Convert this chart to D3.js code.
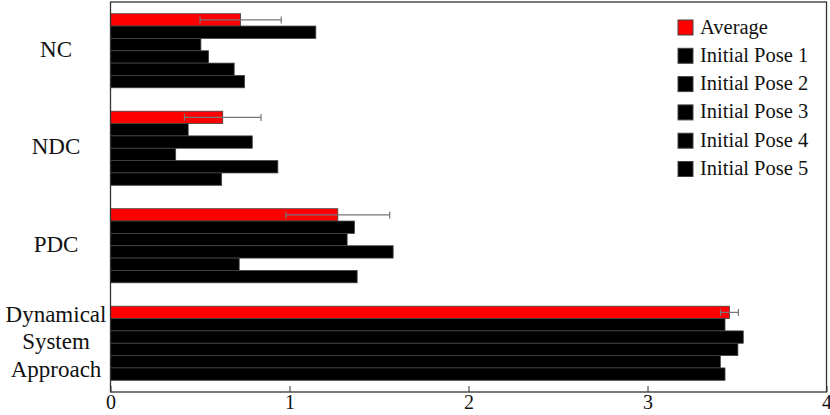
<!DOCTYPE html>
<html lang="en">
<head>
<meta charset="utf-8">
<style>
body { margin: 0; background: #fff; }
svg text { font-family: "Liberation Serif", "DejaVu Serif", serif; fill: #111; }
</style>
<title>Approach comparison</title>
<script src="https://cdn.jsdelivr.net/npm/d3@7"></script>
</head>
<body>
<div id="chart"></div>
<script>

// categories (top to bottom) and their label lines
var categories = ["NC", "NDC", "PDC", "DSA"];
var categoryLines = [["NC"], ["NDC"], ["PDC"], ["Dynamical", "System", "Approach"]];
var seriesNames = ["Average", "Initial Pose 1", "Initial Pose 2", "Initial Pose 3", "Initial Pose 4", "Initial Pose 5"];

var average = [0.727, 0.627, 1.270, 3.458];
var averageErr = [0.227, 0.214, 0.290, 0.050];
var pose1 = [1.147, 0.434, 1.363, 3.433];
var pose2 = [0.505, 0.792, 1.322, 3.535];
var pose3 = [0.548, 0.364, 1.579, 3.505];
var pose4 = [0.691, 0.935, 0.719, 3.407];
var pose5 = [0.749, 0.621, 1.378, 3.433];
var xTicks = [0, 1, 2, 3, 4];

var seriesValues = [average, pose1, pose2, pose3, pose4, pose5];
var seriesColors = ["#ff0000", "#000", "#000", "#000", "#000", "#000"];

var width = 830, height = 415;
var plotLeft = 110.5, plotRight = 826.5, plotTop = 2, plotBottom = 392;
var serif = "'Liberation Serif', 'DejaVu Serif', serif";

var svg = d3.select("#chart").append("svg")
	.attr("width", width)
	.attr("height", height);

var x = d3.scaleLinear().domain([0, 4]).range([plotLeft, plotRight]);
var y = d3.scaleBand().domain(categories).range([plotTop, plotBottom])
	.paddingInner(0.24).paddingOuter(0.12);
var ySub = d3.scaleBand().domain(seriesNames).range([0, y.bandwidth()]);

// bars
var groups = svg.selectAll("g.group")
	.data(categories)
	.enter().append("g")
	.attr("class", "group")
	.attr("transform", function(d) { return "translate(0," + y(d) + ")"; });

groups.selectAll("rect")
	.data(function(d, i) {
		return seriesNames.map(function(s, j) {
			return { series: s, value: seriesValues[j][i], color: seriesColors[j] };
		});
	})
	.enter().append("rect")
	.attr("x", x(0))
	.attr("y", function(d) { return ySub(d.series); })
	.attr("width", function(d) { return x(d.value) - x(0); })
	.attr("height", ySub.bandwidth())
	.attr("fill", function(d) { return d.color; })
	.attr("stroke", "#444")
	.attr("stroke-width", 0.8);

// error bars on the average
groups.append("g")
	.attr("stroke", "#777")
	.attr("stroke-width", 1.2)
	.each(function(d, i) {
		var g = d3.select(this);
		var cy = ySub("Average") + ySub.bandwidth() / 2;
		var lo = x(average[i] - averageErr[i]), hi = x(average[i] + averageErr[i]);
		g.append("line").attr("x1", lo).attr("x2", hi).attr("y1", cy).attr("y2", cy);
		g.append("line").attr("x1", lo).attr("x2", lo).attr("y1", cy - 3.5).attr("y2", cy + 3.5);
		g.append("line").attr("x1", hi).attr("x2", hi).attr("y1", cy - 3.5).attr("y2", cy + 3.5);
	});

// frame
svg.append("rect")
	.attr("x", plotLeft).attr("y", plotTop)
	.attr("width", plotRight - plotLeft).attr("height", plotBottom - plotTop)
	.attr("fill", "none")
	.attr("stroke", "#333")
	.attr("stroke-width", 1.3);

// x axis: inward ticks, labels below
var xAxis = svg.append("g")
	.attr("transform", "translate(0," + plotBottom + ")")
	.call(d3.axisBottom(x).tickValues(xTicks).tickSize(-6).tickFormat(d3.format("d")));
xAxis.select(".domain").remove();
xAxis.selectAll("line").attr("stroke", "#333");
xAxis.selectAll("text")
	.style("font-size", "20px")
	.style("font-family", serif)
	.attr("fill", "#111")
	.attr("dy", null)
	.attr("y", 17);

// y labels
svg.selectAll("text.cat")
	.data(categories)
	.enter().append("text")
	.attr("class", "cat")
	.attr("text-anchor", "middle")
	.style("font-family", serif)
	.style("font-size", "23px")
	.each(function(d, i) {
		var lines = categoryLines[i];
		var cy = y(d) + y.bandwidth() / 2 + 6;
		var lh = 27.5;
		var t = d3.select(this);
		lines.forEach(function(l, k) {
			t.append("tspan")
				.attr("x", 56)
				.attr("y", cy + (k - (lines.length - 1) / 2) * lh)
				.text(l);
		});
	});

// legend
var legend = svg.append("g").attr("transform", "translate(678,20)");
var item = legend.selectAll("g")
	.data(seriesNames)
	.enter().append("g")
	.attr("transform", function(d, i) { return "translate(0," + i * 28.3 + ")"; });
item.append("rect")
	.attr("width", 15).attr("height", 15)
	.attr("fill", function(d, i) { return seriesColors[i]; })
	.attr("stroke", "#444")
	.attr("stroke-width", 1);
item.append("text")
	.attr("x", 22)
	.attr("y", 13.5)
	.style("font-family", serif)
	.style("font-size", "20.5px")
	.text(function(d) { return d; });

</script>
</body>
</html>
